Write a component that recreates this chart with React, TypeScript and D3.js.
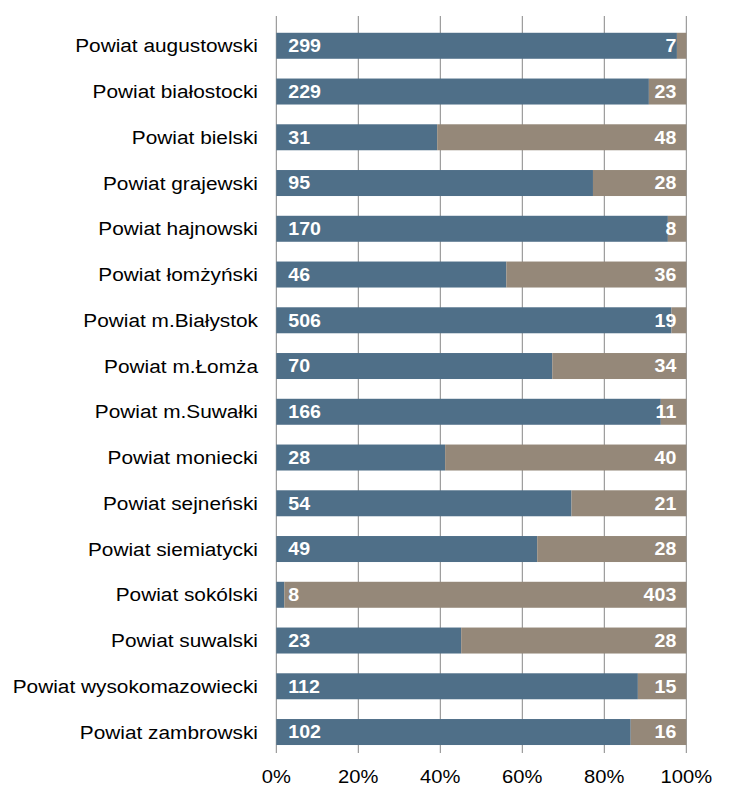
import React from "react";
import * as d3 from "d3";

const categories = [
  "Powiat augustowski",
  "Powiat białostocki",
  "Powiat bielski",
  "Powiat grajewski",
  "Powiat hajnowski",
  "Powiat łomżyński",
  "Powiat m.Białystok",
  "Powiat m.Łomża",
  "Powiat m.Suwałki",
  "Powiat moniecki",
  "Powiat sejneński",
  "Powiat siemiatycki",
  "Powiat sokólski",
  "Powiat suwalski",
  "Powiat wysokomazowiecki",
  "Powiat zambrowski",
];
const seriesA = [299, 229, 31, 95, 170, 46, 506, 70, 166, 28, 54, 49, 8, 23, 112, 102];
const seriesB = [7, 23, 48, 28, 8, 36, 19, 34, 11, 40, 21, 28, 403, 28, 15, 16];
const ticks = [0, 0.2, 0.4, 0.6, 0.8, 1];

const W = 736;
const H = 805;
const X0 = 276.3;
const X1 = 686.3;
const GRID_TOP = 16;
const GRID_BOTTOM = 753;
const COLOR_A = "#4f6f88";
const COLOR_B = "#958879";
const FONT = "'Liberation Sans', Arial, sans-serif";
const SX = 1.12;

export default function App() {
  const x = d3.scaleLinear().domain([0, 1]).range([X0, X1]);
  const y = d3
    .scaleBand<string>()
    .domain(categories)
    .range([22.9, 754.9])
    .paddingInner(0.432)
    .paddingOuter(0.216);
  const bw = y.bandwidth();

  return (
    <svg width={W} height={H} style={{ position: "absolute", left: 0, top: 0 }}>
      <rect width={W} height={H} fill="#fff" />
      {ticks.map((t) => (
        <line
          key={t}
          x1={x(t)}
          x2={x(t)}
          y1={GRID_TOP}
          y2={GRID_BOTTOM}
          stroke="#868686"
          strokeWidth={1}
        />
      ))}
      {categories.map((c, i) => {
        const total = seriesA[i] + seriesB[i];
        const fa = seriesA[i] / total;
        const y0 = y(c)!;
        const cy = y0 + bw / 2;
        return (
          <g key={c}>
            <rect x={x(0)} y={y0} width={x(fa) - x(0)} height={bw} fill={COLOR_A} />
            <rect x={x(fa)} y={y0} width={x(1) - x(fa)} height={bw} fill={COLOR_B} />
            <text
              transform={`translate(258,${cy}) scale(${SX},1)`}
              textAnchor="end"
              dy="0.36em"
              fontFamily={FONT}
              fontSize={18.6}
              fill="#000"
            >
              {c}
            </text>
            <text
              transform={`translate(${x(0) + 12},${cy}) scale(${SX},1)`}
              textAnchor="start"
              dy="0.36em"
              fontFamily={FONT}
              fontSize={17.5}
              fontWeight="bold"
              fill="#fff"
            >
              {seriesA[i]}
            </text>
            <text
              transform={`translate(${x(1) - 10},${cy}) scale(${SX},1)`}
              textAnchor="end"
              dy="0.36em"
              fontFamily={FONT}
              fontSize={17.5}
              fontWeight="bold"
              fill="#fff"
            >
              {seriesB[i]}
            </text>
          </g>
        );
      })}
      {ticks.map((t) => (
        <text
          key={"l" + t}
          transform={`translate(${x(t)},782.5) scale(${SX},1)`}
          textAnchor="middle"
          fontFamily={FONT}
          fontSize={18}
          fill="#000"
        >
          {d3.format(".0%")(t)}
        </text>
      ))}
    </svg>
  );
}
